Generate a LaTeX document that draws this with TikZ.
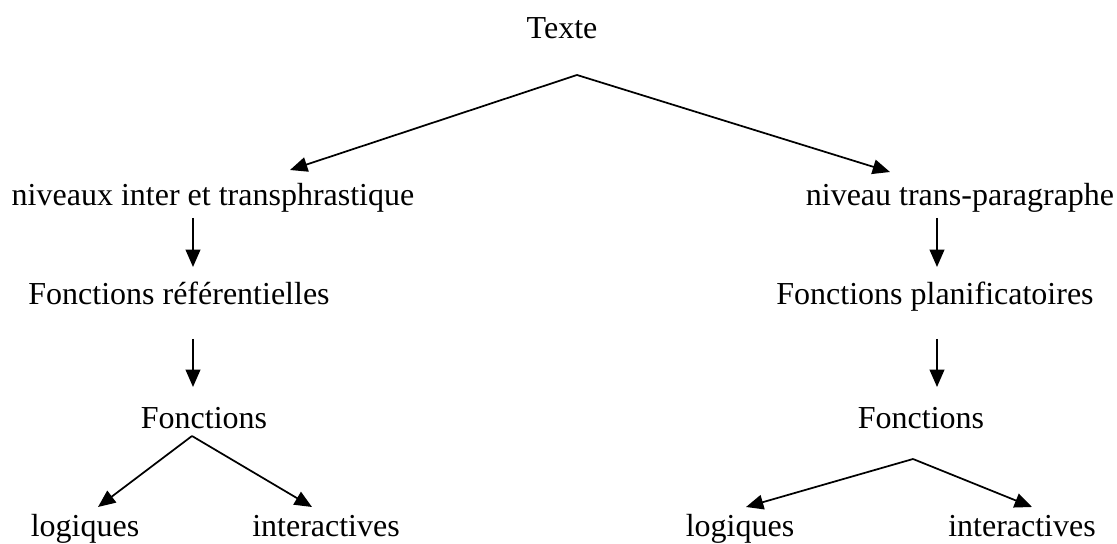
\documentclass[tikz,border=0pt]{standalone}
\usepackage{fontspec}
\setmainfont{Liberation Serif}
\usetikzlibrary{calc, arrows.meta}

\tikzset{
  lbl/.style={anchor=base, inner sep=0pt, font=\fontsize{24}{29}\selectfont},
  fl/.style={line width=1.3pt, -{Triangle[length=13pt,width=11pt]}}
}

\begin{document}
\begin{tikzpicture}[x=0.75pt, y=0.75pt]
      \useasboundingbox (0,0) rectangle (1117,543);
      % textes
      \node[lbl] (texte) at (562, 504) {Texte};
      \node[lbl] (nivL) at (213, 337) {niveaux inter et transphrastique};
      \node[lbl] (nivR) at (960, 337) {niveau trans-paragraphe};
      \node[lbl] (refL) at (179, 238) {Fonctions référentielles};
      \node[lbl] (plaR) at (935, 238) {Fonctions planificatoires};
      \node[lbl] (fonL) at (204, 115) {Fonctions};
      \node[lbl] (fonR) at (921, 115) {Fonctions};
      \node[lbl] (logL) at (85, 7) {logiques};
      \node[lbl] (intL) at (326, 7) {interactives};
      \node[lbl] (logR) at (740, 7) {logiques};
      \node[lbl] (intR) at (1022, 7) {interactives};
      % points
      \coordinate (tA) at (577, 468);
      \coordinate (tL) at (290, 373);
      \coordinate (tR) at (890, 371);
      \coordinate (nL1) at (193, 325);
      \coordinate (rL1) at (193, 276);
      \coordinate (nR1) at (937, 325);
      \coordinate (pR1) at (937, 276);
      \coordinate (rL2) at (193, 204);
      \coordinate (fL2) at (193, 156);
      \coordinate (pR2) at (937, 204);
      \coordinate (fR2) at (937, 156);
      \coordinate (lA) at (192, 107);
      \coordinate (lL) at (98, 36);
      \coordinate (lI) at (312, 36);
      \coordinate (rA) at (913, 84);
      \coordinate (rL) at (746, 36);
      \coordinate (rI) at (1032, 36);
      % fleches
      \draw[fl] (tA) -- (tL);
      \draw[fl] (tA) -- (tR);
      \draw[fl] (nL1) -- (rL1);
      \draw[fl] (nR1) -- (pR1);
      \draw[fl] (rL2) -- (fL2);
      \draw[fl] (pR2) -- (fR2);
      \draw[fl] (lA) -- (lL);
      \draw[fl] (lA) -- (lI);
      \draw[fl] (rA) -- (rL);
      \draw[fl] (rA) -- (rI);
  \end{tikzpicture}
\end{document}
